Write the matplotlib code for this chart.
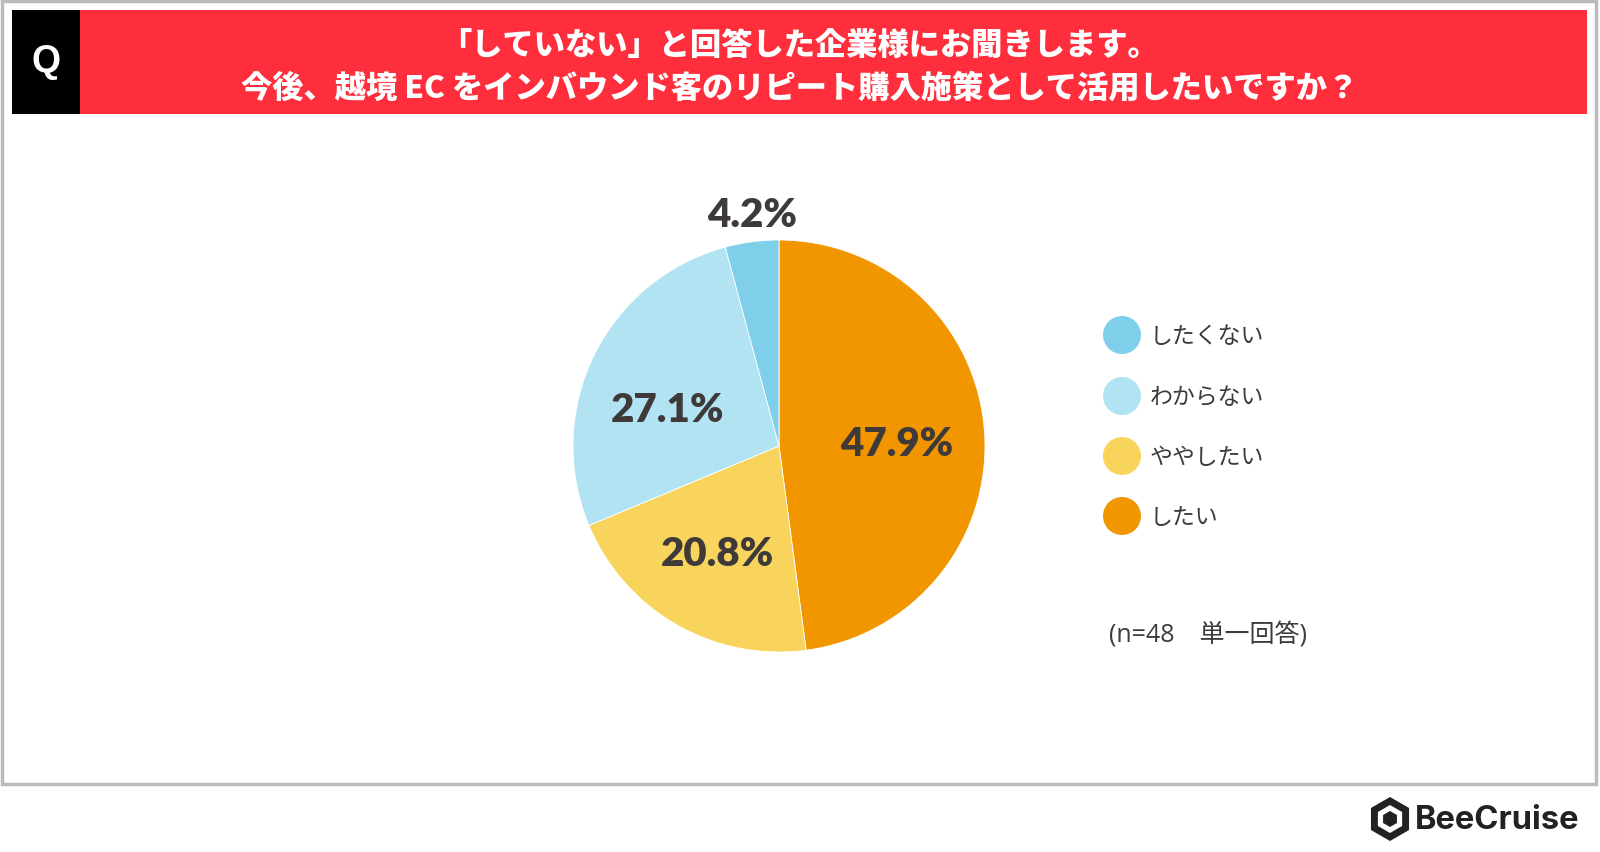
import matplotlib
matplotlib.use("Agg")
import matplotlib.pyplot as plt
from matplotlib.patches import Rectangle, Circle, RegularPolygon
import numpy as np

plt.rcParams['font.family'] = ['Noto Sans CJK JP', 'DejaVu Sans']

# ---- data ----
categories = ["したい", "ややしたい", "わからない", "したくない"]
values = [47.9, 20.8, 27.1, 4.2]
colors = ["#F29600", "#F9D45C", "#B1E3F3", "#80CFEA"]
legend_order = ["したくない", "わからない", "ややしたい", "したい"]
title_lines = ["「していない」と回答した企業様にお聞きします。",
               "今後、越境 EC をインバウンド客のリピート購入施策として活用したいですか？"]
note = "(n=48　単一回答)"
brand = "BeeCruise"

W, H = 1600, 853
fig = plt.figure(figsize=(16, 8.53), dpi=100)
bg = fig.add_axes([0, 0, 1, 1])
bg.set_xlim(0, W)
bg.set_ylim(H, 0)
bg.axis('off')

TXT = "#3E3A39"

# outer frame
bg.add_patch(Rectangle((2, 2), 1594, 783, fill=False, ec="#BBBBBB", lw=2.5))
# header
bg.add_patch(Rectangle((80, 11), 1507, 104, fc="#FE2E3C", ec="none"))
bg.add_patch(Rectangle((12, 11), 68, 104, fc="#000000", ec="none"))
bg.text(46, 62, "Q", color="white", fontsize=27, fontweight="bold",
        family=["Liberation Sans", "DejaVu Sans"], ha="center", va="center")
bg.text(800, 45, title_lines[0], color="white", fontsize=22.5, fontweight="heavy",
        ha="center", va="center")
bg.text(800, 88, title_lines[1], color="white", fontsize=22.5, fontweight="heavy",
        ha="center", va="center")

# pie
cx, cy, r = 779, 447, 206
pax = fig.add_axes([(cx - r) / W, (H - cy - r) / H, 2 * r / W, 2 * r / H])
wedges, _ = pax.pie(values, colors=colors, startangle=90, counterclock=False,
                    radius=1.0, wedgeprops=dict(linewidth=0.6, edgecolor="white"))
pax.set_xlim(-1, 1)
pax.set_ylim(-1, 1)
pax.set_aspect('equal')
pax.axis('off')

label_dist = [0.57, 0.60, 0.57, 1.13]
angle_adj = [-2.5, 0, 8, -1]
for w, v, d, da in zip(wedges, values, label_dist, angle_adj):
    ang = np.deg2rad((w.theta1 + w.theta2) / 2 + da)
    pax.text(d * np.cos(ang), d * np.sin(ang), f"{v}%", ha="center", va="center",
             fontsize=29, fontweight="heavy", color=TXT,
             family=["Lato", "DejaVu Sans"], clip_on=False)

# legend
cmap = dict(zip(categories, colors))
ys = [336, 397, 457, 517]
for name, y in zip(legend_order, ys):
    bg.add_patch(Circle((1122, y), 19, fc=cmap[name], ec="none"))
    bg.text(1150, y, name, fontsize=16.5, color=TXT, ha="left", va="center")

bg.text(1109, 635, note, fontsize=18, color=TXT, ha="left", va="center",
        family=["Open Sans", "Noto Sans CJK JP", "DejaVu Sans"])

# brand logo
bg.add_patch(RegularPolygon((1390, 820), 6, radius=18, orientation=0,
                            fc="none", ec="#222222", lw=5))
bg.add_patch(RegularPolygon((1390, 820), 6, radius=8, orientation=0,
                            fc="#222222", ec="none"))
bg.text(1415, 821, brand, fontsize=23.5, fontweight="bold", color="#222222",
        family=["Inter", "DejaVu Sans"], ha="left", va="center")

fig.savefig("out.png", dpi=100)
